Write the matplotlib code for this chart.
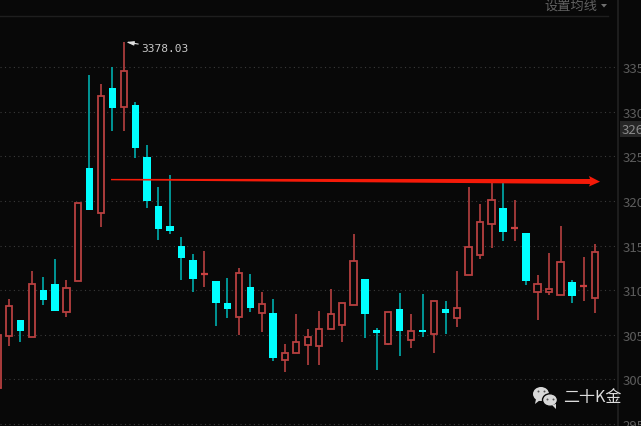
import matplotlib
matplotlib.use('Agg')
import matplotlib.pyplot as plt
from matplotlib.patches import Ellipse, Polygon, Rectangle
import numpy as np

plt.rcParams['font.family'] = ['Noto Sans CJK SC', 'DejaVu Sans']

# 读图得到的K线数据
opens = [2990.5, 3048.7, 3066.6, 3047.6, 3100.2, 3107.0, 3075.6, 3110.3, 3236.9, 3186.5,
         3326.5, 3305.2, 3307.4, 3249.2, 3194.3, 3171.9, 3149.5, 3133.8, 3118.2, 3110.3,
         3085.7, 3070.0, 3103.6, 3074.5, 3074.5, 3021.8, 3029.7, 3038.6, 3037.5, 3056.6,
         3061.0, 3083.4, 3112.6, 3055.4, 3039.8, 3079.0, 3044.2, 3055.4, 3050.9, 3079.0,
         3068.9, 3117.0, 3139.4, 3174.2, 3192.0, 3169.7, 3164.1, 3098.0, 3098.0, 3094.6,
         3109.2, 3104.7, 3091.3]
closes = [3049.8, 3082.3, 3054.3, 3107.0, 3089.0, 3076.7, 3102.5, 3197.7, 3189.8, 3317.5,
          3304.1, 3345.5, 3259.3, 3199.9, 3168.6, 3166.3, 3136.1, 3112.6, 3118.2, 3085.7,
          3079.0, 3119.3, 3080.1, 3084.6, 3024.1, 3029.7, 3042.0, 3047.6, 3056.6, 3073.4,
          3085.7, 3132.7, 3073.4, 3052.1, 3075.6, 3054.3, 3054.3, 3053.2, 3087.9, 3074.5,
          3080.1, 3148.4, 3176.4, 3201.0, 3165.2, 3169.7, 3110.3, 3107.0, 3101.4, 3131.6,
          3093.5, 3104.7, 3142.8]
highs = [3049.8, 3090.2, 3066.6, 3121.5, 3114.8, 3135.0, 3111.4, 3197.7, 3341.0, 3331.0,
         3350.0, 3378.03, 3310.8, 3262.6, 3215.6, 3229.0, 3159.6, 3140.6, 3143.9, 3110.3,
         3113.7, 3124.9, 3118.2, 3098.0, 3090.2, 3039.8, 3073.4, 3056.6, 3076.7, 3101.4,
         3085.7, 3163.0, 3112.6, 3057.7, 3075.6, 3096.9, 3073.4, 3095.8, 3087.9, 3087.9,
         3121.5, 3215.6, 3196.6, 3222.3, 3221.2, 3201.0, 3164.1, 3117.0, 3141.7, 3171.9,
         3111.4, 3137.2, 3151.8]
lows = [2990.5, 3037.5, 3042.0, 3047.6, 3083.4, 3076.7, 3070.0, 3110.3, 3189.8, 3170.8,
        3278.3, 3278.3, 3248.1, 3192.0, 3156.2, 3163.0, 3111.4, 3098.0, 3103.6, 3059.9,
        3068.9, 3049.8, 3075.6, 3053.2, 3020.7, 3008.4, 3029.7, 3016.2, 3016.2, 3056.6,
        3042.0, 3083.4, 3046.5, 3010.6, 3038.6, 3026.3, 3035.3, 3047.6, 3029.7, 3050.9,
        3058.8, 3117.0, 3135.0, 3147.3, 3155.1, 3155.1, 3105.8, 3066.6, 3094.6, 3094.6,
        3085.7, 3087.9, 3074.5]
price_ticks = [2950, 3000, 3050, 3100, 3150, 3200, 3250, 3300, 3350]
price_labels = ['2950', '3000', '3050', '3100', '3150', '3200', '3250', '3300', '3350']
high_label = '3378.03'
last_label = '3262'
menu_label = '设置均线'
brand_label = '二十K金'

bg = '#080808'
red = '#b84040'
red_wick = '#a83c3c'
cyan = '#00ffff'
teal = '#00a0a0'

o = np.array(opens)
c = np.array(closes)
h = np.array(highs)
l = np.array(lows)
x = np.arange(len(o))
up = c >= o

fig = plt.figure(figsize=(6.41, 4.27), dpi=100, facecolor=bg)
ax = fig.add_axes([0, 0, 618 / 641, 1], facecolor=bg)

# 影线
ax.vlines(x[up], l[up], h[up], color=red_wick, lw=1.3, zorder=2)
ax.vlines(x[~up], l[~up], h[~up], color=teal, lw=1.3, zorder=2)
# 实体
ax.bar(x[up], (c - o)[up], bottom=o[up], width=0.56, facecolor=bg, edgecolor=red, lw=1.3, zorder=3)
ax.bar(x[~up], (o - c)[~up], bottom=c[~up], width=0.66, color=cyan, lw=0, zorder=3)
# 十字星
doji = c == o
ax.hlines(o[doji], x[doji] - 0.32, x[doji] + 0.32, color='#c84040', lw=1.6, zorder=3)

ax.set_xlim(0.217, 54.0)
ax.set_ylim(2947.9, 3426.2)
ax.set_xticks([])
ax.set_yticks(price_ticks)
ax.set_yticklabels(price_labels)
ax.yaxis.tick_right()
ax.tick_params(axis='y', length=0, pad=3, labelsize=9.5, labelcolor='#5c5c5c')
ax.grid(axis='y', color='#3a3a3a', lw=0.8, linestyle=(0, (1, 3)))
ax.set_axisbelow(True)
for s in ['top', 'left', 'bottom']:
    ax.spines[s].set_visible(False)
ax.spines['right'].set_color('#222222')
ax.spines['right'].set_linewidth(1.2)

# 叠加层, 坐标就是像素
ov = fig.add_axes([0, 0, 1, 1], facecolor='none')
ov.set_xlim(0, 641)
ov.set_ylim(427, 0)
ov.axis('off')

ov.plot([0, 608], [17, 17], color='#1e1e1e', lw=1.0)
ov.text(544, 6, menu_label, color='#626262', fontsize=9.5, va='center', ha='left')
ov.fill([601, 607, 604], [5, 5, 8.5], color='#707070', lw=0)

# 最新价标签
ov.add_patch(Rectangle((620, 122), 24, 16, facecolor='#262626', edgecolor='none', clip_on=True))
ov.text(622, 130.5, last_label, color='#8a8a8a', fontsize=9.5, va='center', ha='left')

# 最高价标注
ov.annotate(high_label, xy=(126, 43), xytext=(141, 49.5), color='#c8c8c8', fontsize=8,
            family='DejaVu Sans Mono', va='center', ha='left',
            arrowprops=dict(arrowstyle='-|>,head_width=0.15,head_length=0.55', color='#e0e0e0',
                            lw=0.8, shrinkA=0, shrinkB=0))

# 红色箭头
ov.add_patch(Polygon([(111, 179.9), (590, 180), (589, 177), (600, 182.7), (589, 187.5),
                      (590, 185), (111, 181.3)], closed=True, facecolor='#f41a08',
                     edgecolor='none', zorder=5))

# 公众号水印
ov.add_patch(Ellipse((541, 395), 16, 14, facecolor='#d8d8d8', edgecolor='none', zorder=6))
ov.fill([536, 540, 535], [400, 401, 405], color='#d8d8d8', lw=0, zorder=6)
ov.add_patch(Ellipse((550, 401), 15, 12.5, facecolor='#d8d8d8', edgecolor=bg, lw=1.0, zorder=7))
ov.fill([552, 556, 556], [406, 405, 410], color='#d8d8d8', lw=0, zorder=7)
ov.scatter([538, 544, 547, 553], [392, 392, 400, 400], s=2, color='#555555', lw=0, zorder=8)
ov.text(563, 398, brand_label, color='#dcdcdc', fontsize=11.5, va='center', ha='left', zorder=8)

plt.savefig('out.png', dpi=100, facecolor=bg)
